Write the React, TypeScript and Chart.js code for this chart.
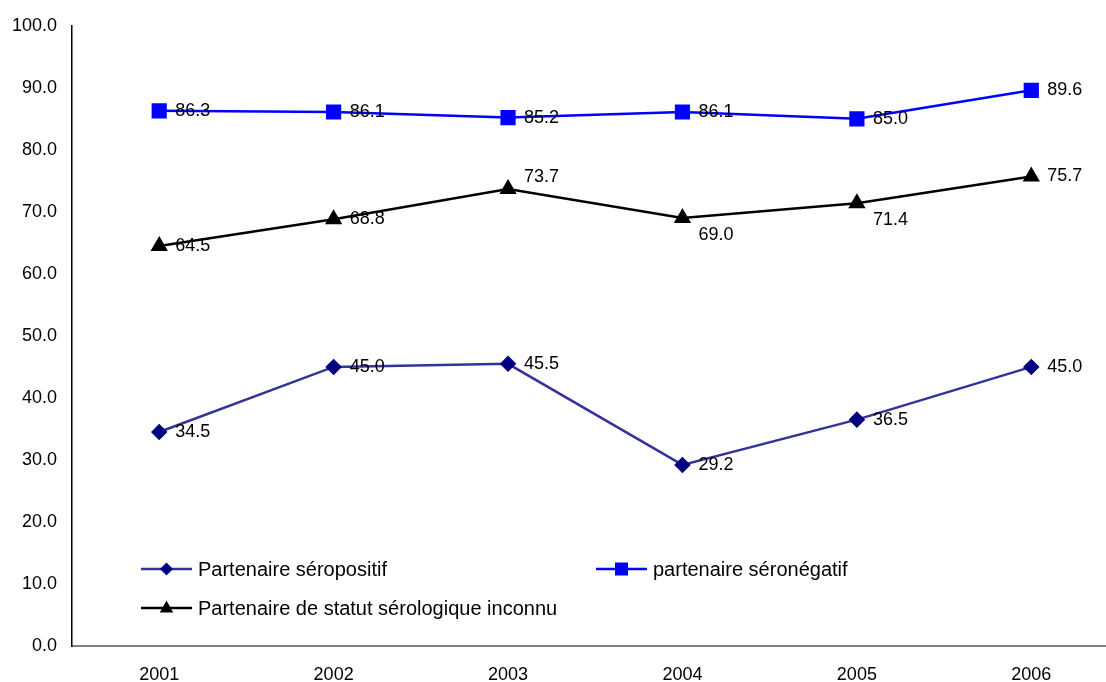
import React, { useEffect, useRef } from 'react';
import { Chart, registerables } from 'chart.js';

Chart.register(...registerables);

const years = ['2001', '2002', '2003', '2004', '2005', '2006'];
const seropositif = [34.5, 45.0, 45.5, 29.2, 36.5, 45.0];
const seronegatif = [86.3, 86.1, 85.2, 86.1, 85.0, 89.6];
const inconnu = [64.5, 68.8, 73.7, 69.0, 71.4, 75.7];
const seriesNames = [
  'Partenaire séropositif',
  'partenaire séronégatif',
  'Partenaire de statut sérologique inconnu',
];

const FONT = "'Liberation Sans', Arial, sans-serif";
const FONT_SIZE = 18;
const LEGEND_FONT_SIZE = 20;

// label vertical nudges (style only)
const labelDy: number[][] = [
  [0, 0, 0, 0, 0, 0],
  [0, 0, 0, 0, 0, 0],
  [0, 0, -12, 17, 17, 0],
];

// legend placement (style only)
const legendPos = [
  { x: 141, y: 569 },
  { x: 596, y: 569 },
  { x: 141, y: 608 },
];

function drawMarker(ctx: CanvasRenderingContext2D, style: string, x: number, y: number, color: string) {
  ctx.save();
  ctx.fillStyle = color;
  ctx.beginPath();
  if (style === 'rectRot') {
    const r = 6.5;
    ctx.moveTo(x, y - r);
    ctx.lineTo(x + r, y);
    ctx.lineTo(x, y + r);
    ctx.lineTo(x - r, y);
    ctx.closePath();
  } else if (style === 'rect') {
    const s = 6.5;
    ctx.rect(x - s, y - s, 2 * s, 2 * s);
  } else {
    const r = 7.5;
    ctx.moveTo(x, y - r);
    ctx.lineTo(x + r * 0.9, y + r * 0.6);
    ctx.lineTo(x - r * 0.9, y + r * 0.6);
    ctx.closePath();
  }
  ctx.fill();
  ctx.restore();
}

const overlayPlugin = {
  id: 'overlay',
  afterDatasetsDraw(chart: any) {
    const ctx: CanvasRenderingContext2D = chart.ctx;
    ctx.save();
    ctx.font = `${FONT_SIZE}px ${FONT}`;
    ctx.fillStyle = '#000';
    ctx.textAlign = 'left';
    ctx.textBaseline = 'middle';
    chart.data.datasets.forEach((ds: any, di: number) => {
      const meta = chart.getDatasetMeta(di);
      meta.data.forEach((pt: any, i: number) => {
        const v = ds.data[i] as number;
        ctx.fillText(v.toFixed(1), pt.x + 16, pt.y + labelDy[di][i]);
      });
    });
    // legend
    ctx.font = `${LEGEND_FONT_SIZE}px ${FONT}`;
    chart.data.datasets.forEach((ds: any, di: number) => {
      const p = legendPos[di];
      ctx.save();
      ctx.strokeStyle = ds.borderColor;
      ctx.lineWidth = 2.5;
      ctx.beginPath();
      ctx.moveTo(p.x, p.y);
      ctx.lineTo(p.x + 51, p.y);
      ctx.stroke();
      ctx.restore();
      drawMarker(ctx, ds.pointStyle, p.x + 25.5, p.y, ds.pointBackgroundColor);
      ctx.fillStyle = '#000';
      ctx.fillText(ds.label, p.x + 57, p.y + 1);
    });
    ctx.restore();
  },
};

export default function App() {
  const ref = useRef<HTMLCanvasElement>(null);
  useEffect(() => {
    if (!ref.current) return;
    const chart = new Chart(ref.current, {
      type: 'line',
      data: {
        labels: years,
        datasets: [
          {
            label: seriesNames[0],
            data: seropositif,
            borderColor: '#333399',
            backgroundColor: '#000080',
            pointBackgroundColor: '#000080',
            pointBorderColor: '#000080',
            pointStyle: 'rectRot',
            pointRadius: 6.5,
            borderWidth: 2.5,
            tension: 0,
          },
          {
            label: seriesNames[1],
            data: seronegatif,
            borderColor: '#0000FF',
            backgroundColor: '#0000FF',
            pointBackgroundColor: '#0000FF',
            pointBorderColor: '#0000FF',
            pointStyle: 'rect',
            pointRadius: 9,
            borderWidth: 2.5,
            tension: 0,
          },
          {
            label: seriesNames[2],
            data: inconnu,
            borderColor: '#000000',
            backgroundColor: '#000000',
            pointBackgroundColor: '#000000',
            pointBorderColor: '#000000',
            pointStyle: 'triangle',
            pointRadius: 7.5,
            borderWidth: 2.5,
            tension: 0,
          },
        ],
      } as any,
      options: {
        responsive: false,
        animation: false,
        devicePixelRatio: 1,
        layout: { padding: { top: 24, right: 8, left: 0, bottom: 0 } },
        plugins: { legend: { display: false }, tooltip: { enabled: false } },
        scales: {
          x: {
            type: 'category',
            offset: true,
            grid: { display: false, drawTicks: false },
            border: { display: true, color: '#808080', width: 2 },
            ticks: {
              color: '#000',
              font: { family: FONT, size: FONT_SIZE },
              padding: 18,
              maxRotation: 0,
            },
            afterFit: (s: any) => {
              s.height = 36;
            },
          },
          y: {
            min: 0,
            max: 100,
            grid: { display: false, drawTicks: false },
            border: { display: true, color: '#000', width: 1.5 },
            ticks: {
              stepSize: 10,
              color: '#000',
              font: { family: FONT, size: FONT_SIZE },
              padding: 15,
              callback: (v: any) => Number(v).toFixed(1),
            },
            afterFit: (s: any) => {
              s.width = 72;
            },
          },
        },
      } as any,
      plugins: [overlayPlugin],
    });
    return () => chart.destroy();
  }, []);
  return (
    <div style={{ position: 'absolute', left: 0, top: 0, width: 1106, height: 682, overflow: 'hidden', background: '#fff' }}>
      <canvas ref={ref} width={1130} height={682} style={{ display: 'block' }} />
    </div>
  );
}
